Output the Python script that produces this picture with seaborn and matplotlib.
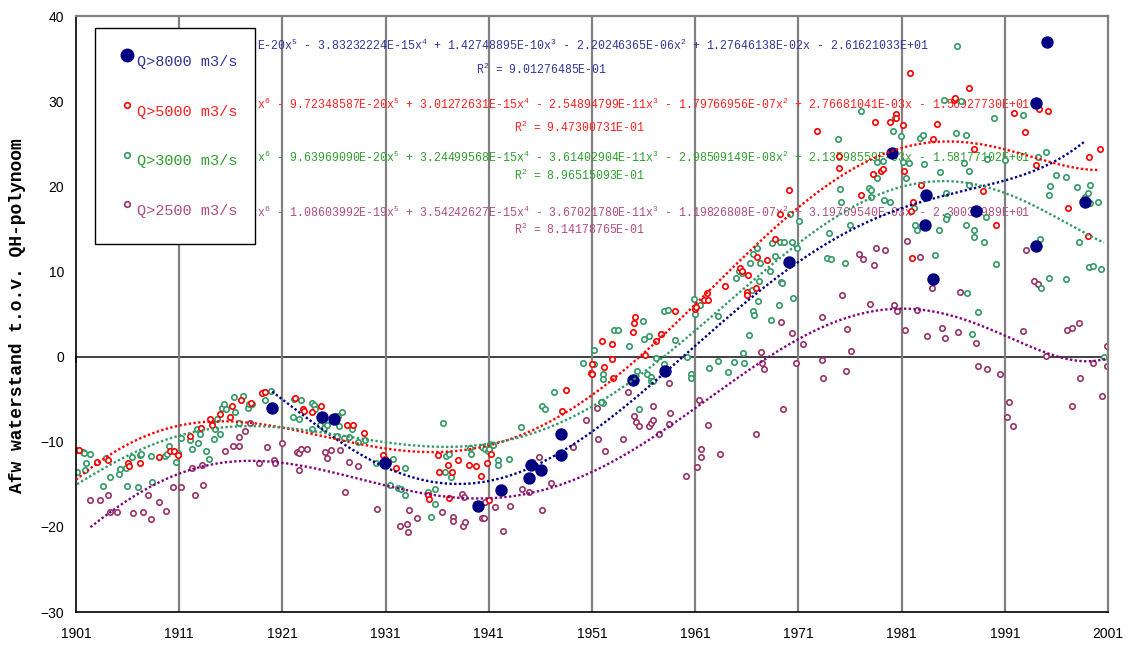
import numpy as np
import pandas as pd
import matplotlib
matplotlib.use("Agg")
import matplotlib.pyplot as plt
import seaborn as sns
from matplotlib.lines import Line2D

# ---------------- data ----------------
q8000_year = [1920.0, 1924.8, 1926.0, 1930.9, 1940.0, 1942.2, 1944.9, 1945.1, 1946.1,
              1948.0, 1948.0, 1955.0, 1958.1, 1970.1, 1980.1, 1983.4, 1983.3, 1984.0,
              1988.2, 1994.0, 1994.0, 1995.1, 1998.8]
q8000_val = [-6.0, -7.1, -7.3, -12.5, -17.6, -15.7, -14.3, -12.7, -13.3,
             -11.6, -9.1, -2.8, -1.7, 11.1, 23.9, 19.0, 15.5, 9.1,
             17.1, 29.8, 13.0, 36.9, 18.2]

q5000_year = [1901.0, 1901.3, 1903.0, 1904.1, 1906.0, 1906.1, 1907.2, 1909.0, 1910.1, 1910.5,
              1910.9, 1912.0, 1913.1, 1914.0, 1914.2, 1915.0, 1915.9, 1916.1, 1917.0, 1918.0,
              1919.0, 1919.3, 1922.2, 1923.0, 1923.1, 1923.9, 1924.7, 1926.2, 1927.3, 1927.8,
              1928.9, 1930.7, 1930.9, 1931.2, 1932.0, 1935.1, 1935.2, 1936.1, 1936.2, 1937.0,
              1937.1, 1937.4, 1938.0, 1939.1, 1939.8, 1940.2, 1940.8, 1941.0, 1941.2, 1948.1,
              1948.5, 1950.9, 1951.0, 1951.0, 1952.0, 1952.2, 1952.9, 1952.9, 1953.0, 1955.0,
              1955.1, 1955.2, 1956.1, 1957.2, 1957.7, 1959.0, 1961.0, 1961.1, 1961.9, 1962.1,
              1962.2, 1963.9, 1965.3, 1965.5, 1966.0, 1966.0, 1966.1, 1966.9, 1967.0, 1968.0,
              1968.7, 1969.2, 1970.1, 1972.8, 1974.9, 1974.9, 1977.1, 1978.2, 1978.4, 1979.0,
              1979.2, 1979.9, 1980.5, 1980.5, 1981.1, 1981.2, 1981.8, 1981.9, 1982.0, 1982.1,
              1982.9, 1984.0, 1984.4, 1986.1, 1986.2, 1987.5, 1988.0, 1988.9, 1990.1, 1991.9,
              1993.0, 1994.0, 1994.3, 1995.2, 1997.1, 1999.1, 1999.2, 2000.2]
q5000_val = [-11.0, -11.0, -12.4, -12.2, -12.5, -12.8, -12.5, -11.8, -11.1, -11.1,
             -11.6, -9.3, -8.4, -7.3, -8.0, -6.7, -7.1, -5.8, -5.1, -5.5,
             -4.3, -4.2, -4.9, -6.1, -6.4, -6.5, -5.8, -7.1, -8.0, -8.0,
             -9.0, -11.6, -12.0, -12.4, -13.1, -16.3, -16.7, -11.6, -13.5, -12.7,
             -16.6, -13.6, -12.2, -12.7, -12.9, -14.0, -12.5, -16.9, -11.5, -6.4,
             -3.9, -1.9, -0.9, -2.0, 1.8, -1.25, 1.5, -0.3, -2.5, 2.9,
             3.9, 4.6, 0.2, 1.8, 2.7, 5.4, 5.6, 5.8, 6.7, 7.5,
             6.7, 8.3, 10.4, 10.0, 7.6, 7.2, 9.6, 8.1, 11.7, 11.3,
             13.8, 16.7, 19.6, 26.5, 23.6, 22.2, 19.0, 21.4, 27.5, 21.8,
             22.0, 27.5, 28.5, 28.0, 27.2, 21.8, 33.3, 17.1, 11.6, 18.1,
             20.1, 25.5, 27.3, 30.1, 30.4, 31.5, 24.4, 19.5, 15.5, 28.6,
             26.4, 22.5, 29.1, 28.8, 17.5, 14.2, 23.4, 24.4]

q3000_year = [1901.1, 1901.7, 1901.8, 1902.4, 1902.0, 1901.9, 1903.6, 1903.9, 1904.3, 1905.2,
              1905.3, 1905.8, 1905.9, 1906.4, 1907.0, 1907.2, 1907.3, 1908.3, 1908.4, 1909.6,
              1910.0, 1909.8, 1910.7, 1910.9, 1911.2, 1912.2, 1912.0, 1912.7, 1912.8, 1913.0,
              1913.6, 1913.9, 1914.2, 1914.4, 1914.5, 1914.7, 1915.0, 1915.1, 1915.3, 1915.5,
              1916.3, 1916.4, 1916.8, 1917.2, 1917.7, 1917.8, 1918.1, 1919.2, 1919.3, 1919.9,
              1922.1, 1922.8, 1922.0, 1922.6, 1923.9, 1924.1, 1924.2, 1923.9, 1924.6, 1925.0,
              1925.3, 1926.2, 1926.4, 1926.8, 1926.3, 1926.5, 1927.0, 1927.5, 1927.7, 1928.3,
              1929.0, 1930.1, 1931.4, 1931.7, 1932.2, 1932.5, 1932.9, 1932.9, 1935.1, 1935.4,
              1935.8, 1936.6, 1936.8, 1935.8, 1936.9, 1937.1, 1937.3, 1939.2, 1939.3, 1940.3,
              1940.6, 1940.9, 1941.0, 1941.1, 1941.4, 1941.9, 1941.9, 1943.0, 1944.1, 1946.2,
              1946.4, 1947.3, 1950.1, 1951.2, 1951.2, 1951.0, 1952.1, 1952.1, 1952.1, 1951.9,
              1953.1, 1953.5, 1954.6, 1955.4, 1955.6, 1955.9, 1956.0, 1956.3, 1956.5, 1956.7,
              1956.7, 1956.9, 1957.2, 1957.7, 1958.0, 1958.0, 1958.4, 1959.0, 1960.2, 1960.6,
              1960.6, 1960.9, 1961.0, 1961.5, 1962.3, 1963.2, 1963.2, 1964.2, 1964.8, 1965.0,
              1965.2, 1965.5, 1965.6, 1965.7, 1966.2, 1966.3, 1966.5, 1966.6, 1966.6, 1966.7,
              1967.0, 1967.1, 1967.2, 1967.3, 1968.2, 1968.3, 1968.4, 1968.7, 1969.1, 1969.2,
              1969.3, 1969.4, 1969.6, 1970.2, 1970.4, 1970.5, 1970.9, 1971.1, 1973.8, 1974.2,
              1974.0, 1975.0, 1975.1, 1974.8, 1975.5, 1976.0, 1977.1, 1977.8, 1978.0, 1978.0,
              1978.6, 1978.6, 1979.2, 1979.3, 1979.9, 1980.2, 1980.4, 1980.9, 1981.1, 1981.4,
              1981.7, 1982.2, 1982.3, 1982.5, 1982.8, 1983.1, 1983.2, 1984.2, 1984.6, 1984.7,
              1985.1, 1985.3, 1985.4, 1985.3, 1986.3, 1986.4, 1986.8, 1987.0, 1987.2, 1987.2,
              1987.3, 1987.5, 1987.5, 1987.8, 1988.0, 1988.0, 1988.4, 1989.0, 1989.2, 1989.3,
              1990.0, 1990.1, 1991.0, 1992.8, 1994.2, 1994.4, 1994.5, 1995.0, 1995.3, 1995.4,
              1995.3, 1996.0, 1996.9, 1996.9, 1998.0, 1998.2, 1998.8, 1999.1, 1999.3, 1999.3,
              1999.2, 1999.5, 2000.0, 2000.3, 2000.6]
q3000_val = [-13.6, -11.2, -11.3, -11.5, -12.5, -13.3, -15.2, -11.9, -14.2, -13.8,
             -13.2, -13.1, -15.2, -11.8, -15.3, -11.6, -11.5, -11.7, -14.7, -11.7,
             -10.5, -11.5, -12.4, -11.3, -9.6, -10.8, -9.8, -8.5, -10.2, -9.1,
             -11.1, -12.0, -7.7, -9.7, -8.5, -7.3, -9.1, -6.0, -5.6, -6.1,
             -4.7, -6.5, -7.8, -4.6, -6.0, -5.6, -5.6, -4.2, -5.1, -4.0,
             -5.0, -5.1, -7.1, -7.3, -5.5, -5.7, -6.1, -8.5, -8.0, -8.4,
             -8.0, -7.0, -7.0, -6.5, -9.3, -8.2, -9.6, -9.5, -8.5, -10.0,
             -9.8, -12.5, -15.1, -12.0, -15.4, -15.5, -13.1, -16.3, -15.9, -18.8,
             -15.5, -7.8, -13.5, -17.3, -11.7, -11.4, -14.1, -10.7, -11.5, -10.6,
             -10.9, -11.1, -10.8, -10.3, -10.4, -12.1, -12.7, -12.0, -8.3, -5.8,
             -6.2, -4.2, -0.8, -0.9, 0.8, -2.1, -2.0, -2.6, -5.4, -5.3,
             3.1, 3.1, 1.3, -1.7, -6.1, 4.2, 2.1, -2.0, 2.4, -2.4,
             -2.9, -2.9, -0.2, 2.6, 5.4, -0.9, 5.5, 2.0, 0.0, -2.0,
             -2.5, 6.8, 5.0, 6.1, -1.3, 4.8, -0.5, -1.8, -0.6, 9.2,
             10.0, 9.8, 0.4, -0.8, 2.5, 11.0, 7.8, 12.0, 5.4, 4.9,
             12.7, 6.5, 8.9, 11.0, 10.1, 4.3, 13.3, 11.8, 6.1, 13.4,
             8.8, 8.6, 13.4, 16.7, 13.4, 6.9, 12.8, 15.9, 11.6, 11.5,
             14.5, 19.7, 18.2, 25.6, 11.0, 15.5, 28.8, 19.8, 19.6, 18.7,
             21.0, 22.9, 23.0, 18.4, 18.2, 26.5, 28.0, 25.9, 22.9, 21.0,
             22.7, 17.5, 15.5, 14.9, 25.7, 26.0, 22.6, 11.9, 14.9, 21.7,
             30.1, 19.2, 16.5, 16.2, 26.3, 36.5, 30.0, 22.7, 26.0, 15.4,
             7.5, 21.8, 20.2, 2.7, 14.9, 14.1, 5.2, 13.5, 16.4, 23.2,
             28.0, 10.9, 23.1, 28.4, 23.4, 13.8, 8.1, 24.0, 19.0, 20.0,
             9.2, 21.3, 9.1, 21.1, 19.9, 13.4, 18.7, 19.2, 20.1, 18.0,
             10.5, 10.6, 18.2, 10.3, 0.0]

q2500_year = [1902.4, 1903.3, 1904.1, 1904.3, 1905.0, 1906.5, 1907.5, 1908.0, 1908.3, 1909.0,
              1909.7, 1910.4, 1911.2, 1912.2, 1912.5, 1913.2, 1913.3, 1915.4, 1916.2, 1916.8,
              1916.8, 1917.4, 1917.9, 1918.7, 1919.5, 1920.2, 1920.3, 1921.0, 1922.4, 1922.6,
              1922.6, 1922.8, 1923.4, 1925.1, 1925.3, 1925.7, 1926.6, 1927.1, 1927.5, 1928.3,
              1930.2, 1932.4, 1933.1, 1933.2, 1933.3, 1934.0, 1936.5, 1937.5, 1937.5, 1938.5,
              1938.7, 1938.4, 1938.6, 1939.8, 1939.8, 1940.3, 1940.5, 1940.6, 1941.6, 1942.4,
              1943.1, 1944.2, 1944.9, 1945.2, 1945.9, 1946.2, 1947.0, 1949.2, 1950.4, 1951.5,
              1951.6, 1952.3, 1954.0, 1954.5, 1955.1, 1955.3, 1955.6, 1956.5, 1956.7, 1956.9,
              1956.9, 1957.5, 1958.5, 1958.6, 1958.5, 1960.1, 1961.2, 1961.6, 1961.6, 1961.4,
              1962.2, 1963.4, 1966.9, 1967.4, 1967.5, 1967.7, 1969.3, 1969.5, 1970.4, 1970.8,
              1971.4, 1973.3, 1973.3, 1973.4, 1975.2, 1975.6, 1975.7, 1976.1, 1976.9, 1977.3,
              1977.9, 1978.3, 1978.5, 1979.4, 1980.3, 1980.6, 1981.3, 1981.5, 1982.5, 1982.8,
              1983.5, 1983.9, 1984.0, 1984.9, 1985.2, 1986.5, 1986.7, 1988.2, 1988.4, 1989.3,
              1990.5, 1991.2, 1991.4, 1991.8, 1992.8, 1993.1, 1993.8, 1994.2, 1995.0, 1997.0,
              1997.5, 1997.5, 1998.2, 1998.3, 1999.5, 2000.4, 2000.9, 2000.9]
q2500_val = [-16.9, -16.8, -16.3, -18.2, -18.2, -18.4, -18.3, -16.3, -19.1, -17.1,
             -18.1, -15.3, -15.3, -13.1, -16.3, -12.7, -15.1, -11.1, -10.5, -10.5,
             -9.4, -8.7, -7.8, -12.5, -10.6, -12.1, -12.5, -10.2, -11.2, -11.3,
             -13.3, -10.8, -10.8, -11.2, -11.9, -11.0, -11.0, -15.9, -12.4, -12.9,
             -17.9, -19.9, -19.7, -20.6, -18.0, -19.0, -18.2, -18.8, -19.3, -19.9,
             -19.4, -16.1, -16.5, -17.3, -17.5, -19.0, -19.0, -17.1, -17.7, -20.5,
             -17.5, -15.6, -15.9, -12.4, -11.8, -18.0, -14.9, -10.6, -7.5, -6.0,
             -9.7, -11.1, -9.7, -4.2, -7.0, -7.7, -8.2, -8.1, -7.8, -7.5,
             -5.8, -9.1, -3.1, -6.6, -7.9, -14.0, -13.0, -10.9, -11.8, -5.1,
             -8.0, -11.4, -9.1, 0.5, -0.7, -1.5, 4.1, -6.2, 2.8, -0.8,
             1.5, 4.6, -0.4, -2.5, 7.2, -1.7, 3.2, 0.7, 12.0, 11.5,
             6.2, 10.7, 12.8, 12.5, 6.0, 5.4, 3.1, 13.6, 5.5, 11.7,
             2.4, 8.0, 8.8, 3.4, 2.2, 2.9, 7.6, 1.6, -1.1, -1.5,
             -2.1, -7.1, -5.3, -8.1, 3.0, 12.5, 8.9, 8.5, 0.1, 3.1,
             3.3, -5.8, 3.9, -2.5, -0.8, -4.6, 1.2, -1.1]

series_labels = ["Q>8000 m3/s", "Q>5000 m3/s", "Q>3000 m3/s", "Q>2500 m3/s"]
trend_orders = [5, 6, 6, 6]
# visible part of each trendline equation (its start is hidden behind the legend box)
equations = [
    "E-20x$^5$ - 3.83232224E-15x$^4$ + 1.42748895E-10x$^3$ - 2.20246365E-06x$^2$ + 1.27646138E-02x - 2.61621033E+01",
    "x$^6$ - 9.72348587E-20x$^5$ + 3.01272631E-15x$^4$ - 2.54894799E-11x$^3$ - 1.79766956E-07x$^2$ + 2.76681041E-03x - 1.56927730E+01",
    "x$^6$ - 9.63969090E-20x$^5$ + 3.24499568E-15x$^4$ - 3.61402904E-11x$^3$ - 2.98509149E-08x$^2$ + 2.13598559E-03x - 1.58177102E+01",
    "x$^6$ - 1.08603992E-19x$^5$ + 3.54242627E-15x$^4$ - 3.67021780E-11x$^3$ - 1.19826808E-07x$^2$ + 3.19769540E-03x - 2.30034989E+01",
]
r_squared = ["9.01276485E-01", "9.47300731E-01", "8.96515093E-01", "8.14178765E-01"]
x_ticks = [1901, 1911, 1921, 1931, 1941, 1951, 1961, 1971, 1981, 1991, 2001]
y_ticks = [-30, -20, -10, 0, 10, 20, 30, 40]
y_label = "Afw waterstand t.o.v. QH-polynoom"

# ---------------- styling ----------------
sns.set_theme(style="white")
plt.rcParams["font.family"] = ["Liberation Sans", "DejaVu Sans"]
plt.rcParams["mathtext.fontset"] = "custom"
plt.rcParams["mathtext.rm"] = "Liberation Mono"
plt.rcParams["mathtext.it"] = "Liberation Mono"
plt.rcParams["mathtext.bf"] = "Liberation Mono:bold"
MONO = ["Liberation Mono", "DejaVu Sans Mono"]

W, H = 1130, 646
fig = plt.figure(figsize=(W / 100, H / 100), dpi=100, facecolor="white")
ax = fig.add_axes([76 / W, 1 - 612 / H, (1108 - 76) / W, (612 - 16) / H])
ax.set_facecolor("white")

marker_colors = ["#000080", "#FF0000", "#339966", "#993366"]
trend_colors = ["#000080", "#FF0000", "#339966", "#800080"]
text_colors = ["#333399", "#FF2020", "#2E9E2E", "#B04C80"]

years = [q8000_year, q5000_year, q3000_year, q2500_year]
vals = [q8000_val, q5000_val, q3000_val, q2500_val]

frames = []
for lab, yr, v in zip(series_labels, years, vals):
    frames.append(pd.DataFrame({"year": yr, "value": v, "series": lab}))
df = pd.concat(frames, ignore_index=True)

# vertical gridlines at the decade ticks
for xt in x_ticks[1:-1]:
    ax.axvline(xt, color="#808080", lw=1.6, zorder=0.5)

# scatter (magenta first, blue on top)
for i in [3, 2, 1]:
    sub = df[df["series"] == series_labels[i]]
    sns.scatterplot(data=sub, x="year", y="value", ax=ax, s=15, color="white",
                    edgecolor=marker_colors[i], linewidth=1.2, zorder=2 + (3 - i) * 0.1,
                    legend=False)
sub = df[df["series"] == series_labels[0]]
sns.scatterplot(data=sub, x="year", y="value", ax=ax, s=80, color=marker_colors[0],
                edgecolor=marker_colors[0], linewidth=0, zorder=2.5, legend=False)

# polynomial trendlines (least squares fit of the data)
for i in range(4):
    sub = df[df["series"] == series_labels[i]]
    p = np.polynomial.Polynomial.fit(sub["year"], sub["value"], trend_orders[i])
    xs = np.linspace(sub["year"].min(), sub["year"].max(), 400)
    tdf = pd.DataFrame({"year": xs, "trend": p(xs)})
    sns.lineplot(data=tdf, x="year", y="trend", ax=ax, color=trend_colors[i],
                 linestyle=(0, (1, 1)), linewidth=1.7, zorder=3, legend=False)

# axes
ax.set_xlim(1901, 2001)
ax.set_ylim(-30, 40)
ax.set_xticks(x_ticks)
ax.set_yticks(y_ticks)
ax.tick_params(axis="both", labelsize=10, colors="black", length=5, width=1, direction="out")
ax.tick_params(axis="x", pad=6)
ax.set_xlabel("")
ax.set_ylabel("")
for side in ["left", "bottom"]:
    ax.spines[side].set_color("black")
    ax.spines[side].set_linewidth(1.2)
for side in ["top", "right"]:
    ax.spines[side].set_color("#808080")
    ax.spines[side].set_linewidth(1.6)

# horizontal axis line crossing at y = 0, with decade tick marks
y0_frac = (0 - (-30)) / (40 - (-30))
sec = ax.secondary_xaxis(y0_frac)
sec.set_xticks(x_ticks)
sec.tick_params(axis="x", length=4, width=1.2, direction="out", colors="#303030",
                labelbottom=False)
sec.spines["bottom"].set_color("#404040")
sec.spines["bottom"].set_linewidth(1.4)

# trendline equations (left start px, eq y px, R2 centre px, R2 y px)
eq_pos = [(257, 45, 542, 69), (257, 104, 580, 127), (257, 157, 580, 175), (257, 212, 580, 229)]
for i, (xl, ye, cx, yr2) in enumerate(eq_pos):
    ax.text(xl / W, 1 - ye / H, equations[i], transform=fig.transFigure, ha="left",
            va="center", fontsize=8.3, color=text_colors[i], family=MONO, zorder=1.5)
    ax.text(cx / W, 1 - yr2 / H, "R$^2$ = " + r_squared[i], transform=fig.transFigure,
            ha="center", va="center", fontsize=8.3, color=text_colors[i], family=MONO,
            zorder=1.5)

# legend
handles = [
    Line2D([], [], ls="none", marker="o", ms=9, mfc=marker_colors[0], mec=marker_colors[0]),
    Line2D([], [], ls="none", marker="o", ms=4, mfc="white", mec=marker_colors[1], mew=1.2),
    Line2D([], [], ls="none", marker="o", ms=4, mfc="white", mec=marker_colors[2], mew=1.2),
    Line2D([], [], ls="none", marker="o", ms=4, mfc="white", mec=marker_colors[3], mew=1.2),
]
leg = ax.legend(handles, series_labels, loc="upper left",
                bbox_to_anchor=(95 / W, 1 - 28 / H), bbox_transform=fig.transFigure,
                prop={"family": MONO, "size": 11}, labelspacing=1.05, borderpad=1.1,
                handlelength=2.0, handleheight=3.0, handletextpad=-0.33, borderaxespad=0,
                fancybox=False, framealpha=1, edgecolor="black", facecolor="white",
                labelcolor=text_colors)
leg.get_frame().set_linewidth(1.0)
leg.set_zorder(10)

# y label
fig.text(18 / W, 1 - 493 / H, y_label, rotation=90, ha="center", va="bottom",
         fontsize=13, fontweight="bold", family=MONO, color="black")

fig.savefig("out.png", dpi=100, facecolor="white")
